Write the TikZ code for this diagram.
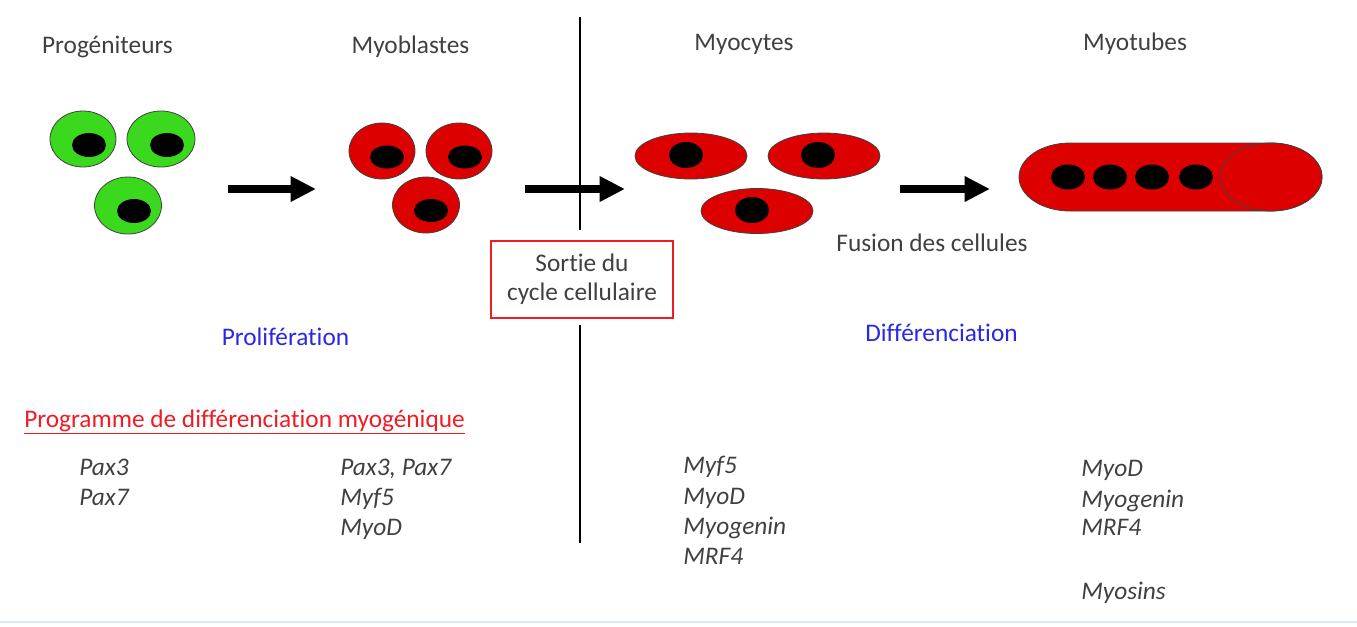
\documentclass[tikz,border=0pt]{standalone}
\usepackage{fontspec}
\setmainfont{Carlito}[Ligatures={NoCommon}]
\usepackage{tikz}
\usetikzlibrary{arrows.meta, positioning}
\definecolor{progcolor}{RGB}{58, 217, 30}
\definecolor{myocolor}{RGB}{221, 0, 0}
\definecolor{labelcolor}{RGB}{64, 64, 64}
\definecolor{phasecolor}{RGB}{40, 40, 230}
\definecolor{titlecolor}{RGB}{238, 28, 36}
\definecolor{rulecolor}{RGB}{214, 240, 242}

\begin{document}
\begin{tikzpicture}[
    x=0.75pt, y=-0.75pt,
    every node/.style={font=\fontsize{19}{22.5}\selectfont, inner sep=0pt},
    stage/.style={text=labelcolor, anchor=base},
    gene/.style={text=labelcolor, anchor=base west, font=\fontsize{19}{22.5}\selectfont\itshape},
    phase/.style={text=phasecolor, anchor=base},
    cell/.style={draw=black!75, line width=0.6pt},
    nucleus/.style={fill=black},
    push/.style={line width=6pt, -{Triangle[length=19pt, width=18pt]}},
    divider/.style={line width=2.2pt},
]
    \useasboundingbox (0,0) rectangle (1357,626);

    % Stage labels
    \node[stage] (prog) at (107.5,53) {Progéniteurs};
    \node[stage] (blast) at (410.5,53) {Myoblastes};
    \node[stage] (cyte) at (744,50) {Myocytes};
    \node[stage] (tube) at (1135,50) {Myotubes};

    % Progenitor cells
    \draw[cell, fill=progcolor] (83,139) ellipse (33 and 28);
    \draw[cell, fill=progcolor] (161,139) ellipse (34 and 28);
    \draw[cell, fill=progcolor] (128,205.5) ellipse (33.5 and 28.5);
    \fill[nucleus] (89,145) ellipse (17 and 12);
    \fill[nucleus] (167,145) ellipse (17 and 12);
    \fill[nucleus] (134,211) ellipse (17 and 12);

    % Myoblasts
    \draw[cell, fill=myocolor] (382,151) ellipse (33 and 28);
    \draw[cell, fill=myocolor] (459,151) ellipse (33 and 28);
    \draw[cell, fill=myocolor] (426,205) ellipse (33.5 and 28);
    \fill[nucleus] (387,157) ellipse (17 and 11.5);
    \fill[nucleus] (465,157) ellipse (17 and 11.5);
    \fill[nucleus] (431,210.5) ellipse (17 and 11.5);

    % Myocytes
    \draw[cell, fill=myocolor] (691,156) ellipse (56 and 23);
    \draw[cell, fill=myocolor] (824,156) ellipse (56 and 23);
    \draw[cell, fill=myocolor] (757,211) ellipse (56 and 22.5);
    \fill[nucleus] (686,155) ellipse (17 and 13);
    \fill[nucleus] (818,155) ellipse (17 and 13);
    \fill[nucleus] (752,210) ellipse (17 and 13);

    % Myotube
    \draw[cell, fill=myocolor] (1070,143) -- (1271,143)
        arc[start angle=-90, end angle=90, x radius=51, y radius=34]
        -- (1070,211)
        arc[start angle=90, end angle=270, x radius=51, y radius=34] -- cycle;
    \draw[cell, fill=myocolor] (1271,177) ellipse (51 and 34);
    \foreach \nx in {1068, 1110, 1152, 1196}
        \fill[nucleus] (\nx,177) ellipse (17 and 12.5);

    % Arrows
    \coordinate (a1s) at (228,189);
    \coordinate (a1e) at (316,189);
    \coordinate (a2s) at (525,189);
    \coordinate (a2e) at (625,189);
    \coordinate (a3s) at (900,189);
    \coordinate (a3e) at (990,189);
    \draw[push] (a1s) -- (a1e);
    \draw[push] (a2s) -- (a2e);
    \draw[push] (a3s) -- (a3e);

    % Cell cycle exit
    \node[draw=titlecolor, line width=0.8pt, minimum width=136.5pt, minimum height=57.75pt,
          align=center, text=labelcolor, font=\fontsize{19}{22}\selectfont] (sortie) at (582,279.5)
          {Sortie du\\cycle cellulaire};
    \coordinate (vtop) at (580,17);
    \coordinate (vbot) at (580,543);
    \draw[divider] (vtop) -- ([yshift=8pt]vtop |- sortie.north);
    \draw[divider] ([yshift=-5pt]vtop |- sortie.south) -- (vbot);

    \node[stage] (fusion) at (932,251) {Fusion des cellules};

    % Phases
    \node[phase] (prolif) at (285.5,345) {Prolifération};
    \node[phase] (diff) at (941.5,341) {Différenciation};
    \node[text=titlecolor, anchor=base west] (myoprog) at (24,427)
        {\underline{Programme de différenciation myogénique}};

    % Genes
    \node[gene] (g11) at (79,475) {Pax3};
    \node[gene] (g12) at (79,505) {Pax7};

    \node[gene] (g21) at (340,475) {Pax3, Pax7};
    \node[gene] (g22) at (340,505) {Myf5};
    \node[gene] (g23) at (340,535) {MyoD};

    \node[gene] (g31) at (683,473) {Myf5};
    \node[gene] (g32) at (683,504) {MyoD};
    \node[gene] (g33) at (683,534) {Myogenin};
    \node[gene] (g34) at (683,564) {MRF4};

    \node[gene] (g41) at (1081,476) {MyoD};
    \node[gene] (g42) at (1081,507) {Myogenin};
    \node[gene] (g43) at (1081,535) {MRF4};
    \node[gene] (g44) at (1081,599) {Myosins};

    % Bottom rule
    \draw[rulecolor, line width=2pt] (0,622) -- (1357,622);
\end{tikzpicture}
\end{document}
